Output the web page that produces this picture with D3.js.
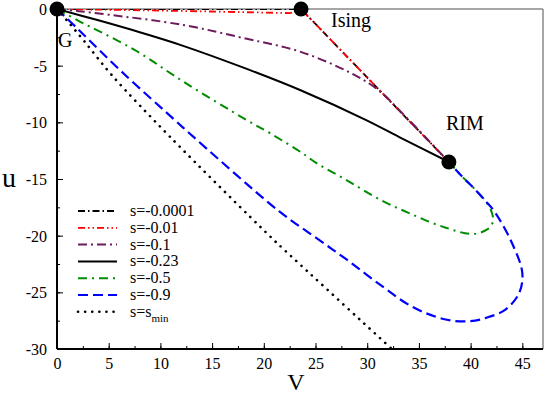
<!DOCTYPE html>
<html><head><meta charset="utf-8">
<script src="https://cdn.jsdelivr.net/npm/d3@7"></script>
<style>body{margin:0;background:#fff}svg{display:block}</style>
</head><body><svg id="c" width="545" height="396"></svg>
<script>
// ---- data (V, u) pairs ----
const sM0001 = [[0,0],[23.6,0],[37.9,-13.5]];
const sM001  = [[0,0],[6,-0.08],[12.4,-0.18],[18,-0.28],[22.5,-0.36],[23.75,-0.15],[37.9,-13.5]];
const sM01   = [[0,0],[2,-0.18],[5,-0.5],[12.2,-1.41],[18.1,-2.58],[23.5,-3.76],[28.3,-5.6],[31,-7.1],[33.5,-9.3],[37.9,-13.5]];
const sM023  = [[0,0],[4,-1.0],[8,-2.05],[12.2,-3.25],[18.1,-5.2],[23.5,-7.15],[29.9,-9.8],[33.1,-11.3],[37.9,-13.5]];
const sM05   = [[0,0],[2,-1.0],[7.5,-3.61],[12.2,-6.4],[18.3,-9.78],[20.6,-10.96],[23.7,-12.7],[25.1,-13.6],[28,-15.1],[31.2,-16.8],[34.4,-18.15],[37.6,-19.3],[40.2,-19.85],[41.6,-19.45],[42.15,-18.8],[42.05,-17.95],[41.4,-16.9],[40.3,-15.8],[39.2,-14.8],[37.9,-13.5]];
const sM09   = [[0,0],[2,-1.75],[6.24,-5.52],[11.55,-9.93],[12.8,-10.96],[21.5,-17.86],[25.07,-20.2],[28,-22.1],[31.2,-24.3],[34.4,-26.3],[37.6,-27.4],[39.9,-27.55],[41.5,-27.25],[43.4,-26.5],[44.7,-25.05],[45.0,-23.3],[44.0,-20.65],[42.3,-17.86],[41.4,-16.9],[40.3,-15.8],[39.2,-14.8],[37.9,-13.5]];
const sMin   = [[0,0],[0.93,-0.97],[2.54,-2.73],[5.28,-5.81],[10.9,-11.25],[20.6,-20.06],[21.8,-21.1],[32.5,-30.1]];
const points = [{name:"G",v:0,u:0},{name:"Ising",v:23.6,u:0},{name:"RIM",v:37.9,u:-13.5}];
const legendLabels = ["s=-0.0001","s=-0.01","s=-0.1","s=-0.23","s=-0.5","s=-0.9","s=s"];
const xTicks = [0,5,10,15,20,25,30,35,40,45];
const yTicks = [0,-5,-10,-15,-20,-25,-30];

const FONT = "'Liberation Serif','Times New Roman',Times,serif";
const series = [
  {data:sM0001, color:"#000000", dash:"7,3,1.5,3", w:1.8, curve:d3.curveLinear},
  {data:sM001,  color:"#ff0000", dash:"7,3,1.5,3,1.5,3", w:1.8, curve:d3.curveLinear},
  {data:sM01,   color:"#6e1a5a", dash:"9,4,2,4", w:2},
  {data:sM023,  color:"#000000", dash:null, w:2},
  {data:sM05,   color:"#008c00", dash:"9,5,2,5", w:2},
  {data:sM09,   color:"#0000ff", dash:"10,5", w:2.2},
  {data:sMin,   color:"#000000", dash:"0.1,7", w:2.6, cap:"round"}
];

const svg = d3.select("#c");
const L=57, T=9, R=543, B=349;
const x = d3.scaleLinear().domain([0,47]).range([L,R]);
const y = d3.scaleLinear().domain([-30,0]).range([B,T]);

svg.append("clipPath").attr("id","clip").append("rect").attr("x",L).attr("y",T).attr("width",R-L).attr("height",B-T);

svg.append("line").attr("x1",L).attr("x2",R).attr("y1",T).attr("y2",T).attr("stroke","#888").attr("stroke-width",1.5);
svg.append("line").attr("x1",R).attr("x2",R).attr("y1",T).attr("y2",B).attr("stroke","#888").attr("stroke-width",1.5);

const xMinor = d3.range(0,47,2.5);
const yMinor = d3.range(-30,0.1,2.5);
const xa = svg.append("g").attr("transform",`translate(0,${B})`)
  .call(d3.axisBottom(x).tickValues(xMinor).tickSize(-3).tickFormat(""));
const xb = svg.append("g").attr("transform",`translate(0,${B})`)
  .call(d3.axisBottom(x).tickValues(xTicks).tickSize(-6).tickPadding(11).tickFormat(d=>String(d)));
const ya = svg.append("g").attr("transform",`translate(${L},0)`)
  .call(d3.axisLeft(y).tickValues(yMinor).tickSize(-3).tickFormat(""));
const yb = svg.append("g").attr("transform",`translate(${L},0)`)
  .call(d3.axisLeft(y).tickValues(yTicks).tickSize(-6).tickPadding(10).tickFormat(d=>String(d)));
[xa,xb,ya,yb].forEach(g=>{
  g.attr("font-family",null).attr("font-size",null);
  g.select(".domain").remove();
  g.selectAll(".tick line").attr("stroke","#000").attr("stroke-width",1);
  g.selectAll("text").style("font-family",FONT).style("font-size","16px").attr("fill","#000");
});
xb.selectAll("text").attr("dy","0.55em");
yb.selectAll("text").attr("dy","0.35em");
svg.append("line").attr("x1",L).attr("x2",R).attr("y1",B).attr("y2",B).attr("stroke","#000").attr("stroke-width",2);
svg.append("line").attr("x1",L).attr("x2",L).attr("y1",T).attr("y2",B).attr("stroke","#000").attr("stroke-width",2);

function txt(xx,yy,s,size,anchor){
  return svg.append("text").attr("x",xx).attr("y",yy).attr("text-anchor",anchor||"start")
    .style("font-family",FONT).style("font-size",size+"px").attr("fill","#000").text(s);
}
txt(296,390,"V",24,"middle");
txt(9,187,"u",28,"middle");

const g = svg.append("g").attr("clip-path","url(#clip)");
series.forEach(s=>{
  const line = d3.line().x(d=>x(d[0])).y(d=>y(d[1])).curve(s.curve||d3.curveCatmullRom.alpha(0.5));
  g.append("path").attr("d",line(s.data)).attr("fill","none").attr("stroke",s.color)
   .attr("stroke-width",s.w).attr("stroke-dasharray",s.dash).attr("stroke-linecap",s.cap||"butt");
});

svg.selectAll("circle.pt").data(points).join("circle").attr("class","pt")
  .attr("cx",d=>x(d.v)).attr("cy",d=>y(d.u)).attr("r",7.5).attr("fill","#000");
txt(58,47,points[0].name,20);
txt(331,27,points[1].name,20);
txt(446,130,points[2].name,20);

series.forEach((s,i)=>{
  const yy = 211 + i*16.8;
  svg.append("line").attr("x1",78).attr("x2",117).attr("y1",yy).attr("y2",yy)
    .attr("stroke",s.color).attr("stroke-width",s.w).attr("stroke-dasharray",s.dash).attr("stroke-linecap",s.cap||"butt");
  const t = txt(130,yy+5,legendLabels[i],16,"start");
  if(i===6){ t.append("tspan").attr("dy",5).style("font-size","11px").text("min"); }
});
</script></body></html>
